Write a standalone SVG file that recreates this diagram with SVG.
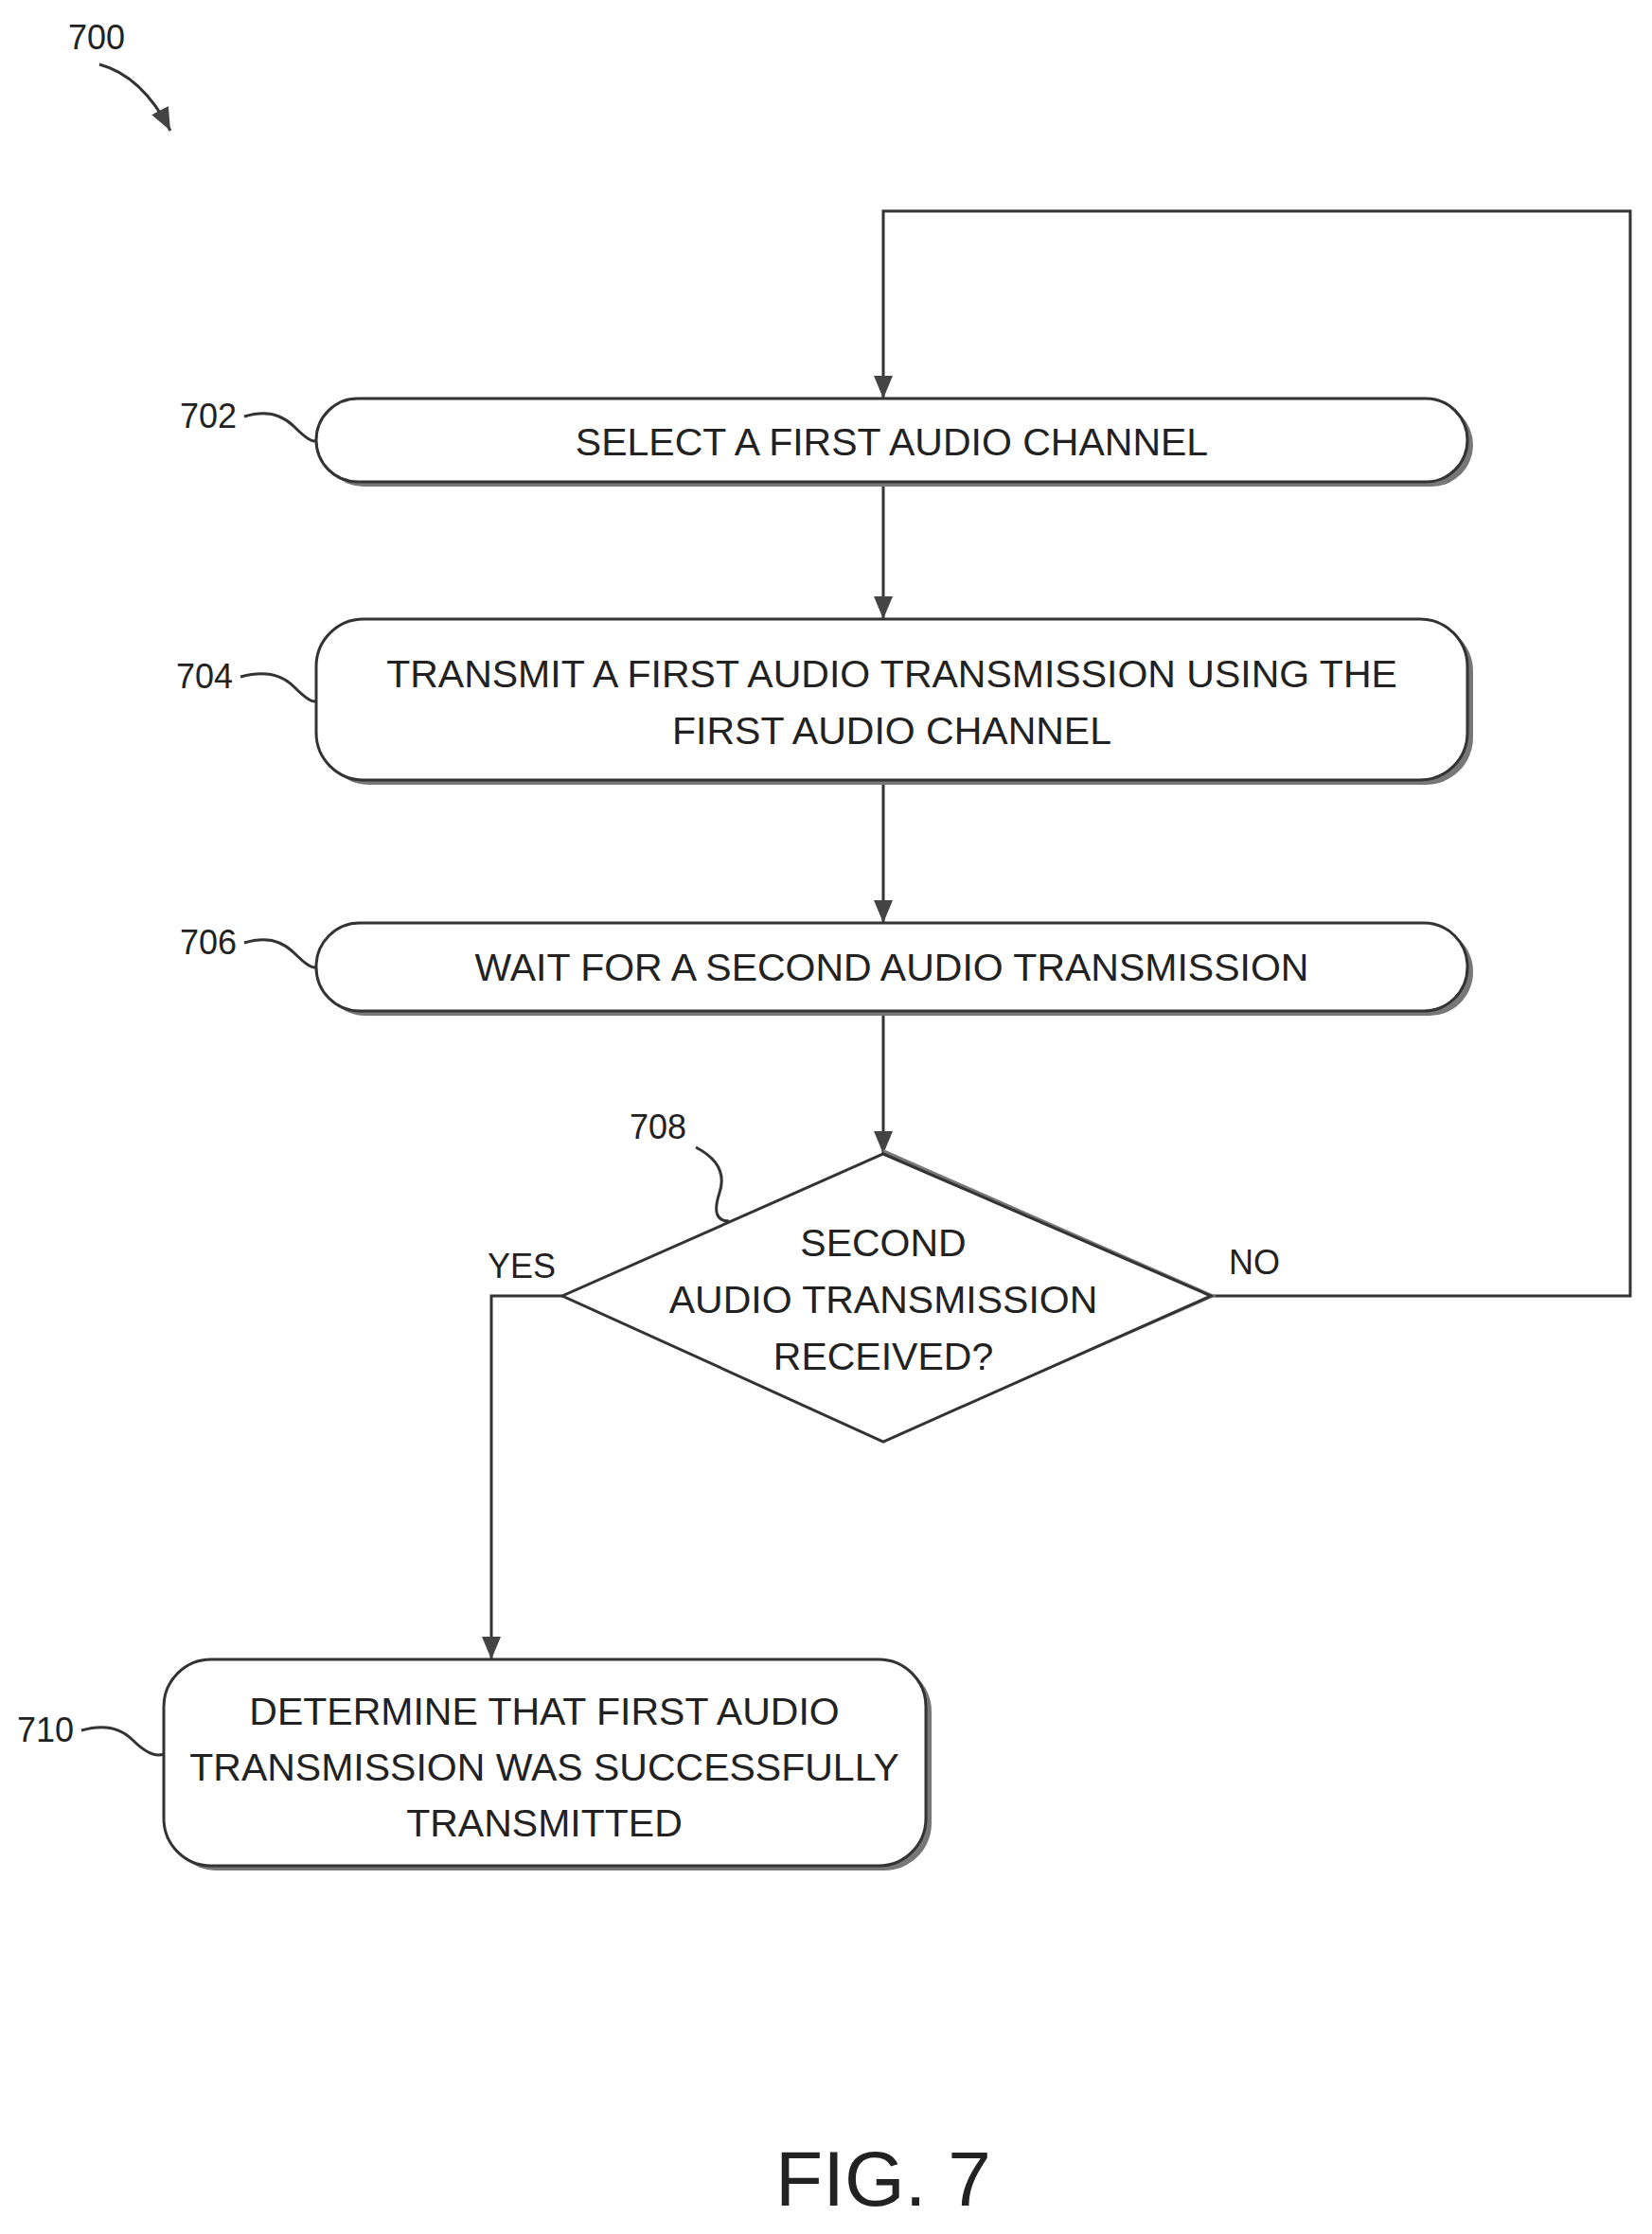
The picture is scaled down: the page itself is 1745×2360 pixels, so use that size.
<svg xmlns="http://www.w3.org/2000/svg" width="1745" height="2360" viewBox="0 0 1745 2360">
<style>
.box{fill:#fff;stroke:#333;stroke-width:3}
.sh{fill:#777}
.t{font-family:"Liberation Sans",Arial,sans-serif;font-size:41px;fill:#222;text-anchor:middle}
.l{font-family:"Liberation Sans",Arial,sans-serif;font-size:36px;fill:#222}
.c{fill:none;stroke:#333;stroke-width:3}
</style>
<defs>
<marker id="b" markerWidth="26" markerHeight="26" refX="24" refY="13" orient="auto" markerUnits="userSpaceOnUse"><path d="M0,3 L24,13 L0,23 z" fill="#444"/></marker></defs>
<text class="l" x="72" y="52">700</text>
<path class="c" d="M105,68 Q150,80 180,138" marker-end="url(#b)"/>
<g id="connectors">
<path class="c" d="M933,509 V654" marker-end="url(#b)"/>
<path class="c" d="M933,824 V975" marker-end="url(#b)"/>
<path class="c" d="M933,1068 V1219" marker-end="url(#b)"/>
<path class="c" d="M1279,1369 H1722 V223 H933 V421" marker-end="url(#b)"/>
<path class="c" d="M594,1369 H519 V1753" marker-end="url(#b)"/>
<text class="l" x="515" y="1350">YES</text>
<text class="l" x="1298" y="1346">NO</text>
</g>
<g id="n702"><rect class="sh" x="340" y="426" width="1216" height="88" rx="44"/><rect class="box" x="334" y="421" width="1216" height="88" rx="44"/><text class="t" x="942" y="481">SELECT A FIRST AUDIO CHANNEL</text>
<text class="l" x="190" y="452">702</text><path class="c" d="M258,440 Q290,430 310,450 T334,465"/></g>
<g id="n704"><rect class="sh" x="340" y="659" width="1216" height="170" rx="50"/><rect class="box" x="334" y="654" width="1216" height="170" rx="50"/><text class="t" x="942" y="726">TRANSMIT A FIRST AUDIO TRANSMISSION USING THE</text><text class="t" x="942" y="786">FIRST AUDIO CHANNEL</text>
<text class="l" x="186" y="727">704</text><path class="c" d="M254,715 Q290,705 310,725 T334,740"/></g>
<g id="n706"><rect class="sh" x="340" y="980" width="1216" height="93" rx="46"/><rect class="box" x="334" y="975" width="1216" height="93" rx="46"/><text class="t" x="942" y="1036">WAIT FOR A SECOND AUDIO TRANSMISSION</text>
<text class="l" x="190" y="1008">706</text><path class="c" d="M258,996 Q290,986 310,1006 T334,1021"/></g>
<g id="n708"><path class="sh" d="M933,1214 L1285,1369 L933,1523 Z"/><path class="box" d="M933,1219 L1279,1369 L933,1523 L594,1369 Z"/><text class="t" x="933" y="1327">SECOND</text><text class="t" x="933" y="1387">AUDIO TRANSMISSION</text><text class="t" x="933" y="1447">RECEIVED?</text>
<text class="l" x="665" y="1203">708</text><path class="c" d="M735,1212 Q770,1230 760,1260 T770,1290"/></g>
<g id="n710"><rect class="sh" x="179" y="1758" width="805" height="218" rx="50"/><rect class="box" x="173" y="1753" width="805" height="218" rx="50"/><text class="t" x="575" y="1822">DETERMINE THAT FIRST AUDIO</text><text class="t" x="575" y="1881">TRANSMISSION WAS SUCCESSFULLY</text><text class="t" x="575" y="1940">TRANSMITTED</text>
<text class="l" x="18" y="1840">710</text><path class="c" d="M86,1828 Q120,1818 140,1838 T173,1853"/></g>
<text class="l" x="933" y="2330" style="font-size:82px;text-anchor:middle">FIG. 7</text>
</svg>
